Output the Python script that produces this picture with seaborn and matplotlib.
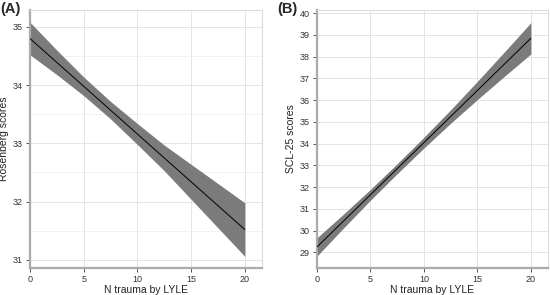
import seaborn as sns
import matplotlib.pyplot as plt
import matplotlib.ticker as mtick
import pandas as pd

# values
n_trauma = [0, 2.5, 5, 7.5, 10, 12.5, 15, 17.5, 20]

rosenberg_fit = [34.80, 34.39, 33.98, 33.57, 33.16, 32.75, 32.34, 31.93, 31.52]
rosenberg_lo = [34.52, 34.18, 33.82, 33.42, 32.98, 32.53, 32.04, 31.55, 31.06]
rosenberg_hi = [35.08, 34.60, 34.14, 33.72, 33.34, 32.97, 32.64, 32.31, 31.98]

scl_fit = [29.25, 30.45, 31.65, 32.85, 34.05, 35.25, 36.45, 37.65, 38.85]
scl_lo = [28.83, 30.13, 31.40, 32.62, 33.80, 34.94, 36.03, 37.09, 38.13]
scl_hi = [29.67, 30.77, 31.90, 33.08, 34.30, 35.56, 36.87, 38.21, 39.57]

df_a = pd.DataFrame({"x": n_trauma, "fit": rosenberg_fit, "lo": rosenberg_lo, "hi": rosenberg_hi})
df_b = pd.DataFrame({"x": n_trauma, "fit": scl_fit, "lo": scl_lo, "hi": scl_hi})

sns.set_style("white")
plt.rcParams['font.family'] = ['Liberation Sans', 'DejaVu Sans']

fig = plt.figure(figsize=(5.5, 2.95), dpi=100)
ax_a = fig.add_axes([30/550, 1-268/295, 232/550, 258/295])
ax_b = fig.add_axes([317/550, 1-268/295, 231/550, 258/295])


def draw_panel(ax, df, ylabel, ylim, yminor):
    ax.fill_between(df["x"], df["lo"], df["hi"], color="#7b7b7b", lw=0, zorder=2)
    sns.lineplot(data=df, x="x", y="fit", ax=ax, color="black", lw=0.7, zorder=3)
    ax.set_xlim(0, 21.6)
    ax.set_ylim(*ylim)
    ax.xaxis.set_major_locator(mtick.MultipleLocator(5))
    ax.yaxis.set_major_locator(mtick.MultipleLocator(1))
    if yminor:
        ax.yaxis.set_minor_locator(mtick.MultipleLocator(0.5))
    ax.grid(which="major", color="#e4e4e4", lw=0.7, zorder=0)
    ax.grid(which="minor", axis="y", color="#efefef", lw=0.6, zorder=0)
    ax.set_axisbelow(True)
    for s in ["left", "bottom"]:
        ax.spines[s].set_color("#ababab")
        ax.spines[s].set_linewidth(1.6)
    for s in ["top", "right"]:
        ax.spines[s].set_color("#dcdcdc")
        ax.spines[s].set_linewidth(0.8)
    ax.tick_params(which="major", axis="both", length=3, width=0.7, color="#555555",
                   labelsize=6.5, labelcolor="#333333", pad=2, left=True, bottom=True)
    ax.tick_params(which="minor", length=0)
    ax.set_xlabel("N trauma by LYLE", fontsize=7.5, color="#222222", labelpad=0.5)
    ax.set_ylabel(ylabel, fontsize=7.5, color="#222222", labelpad=3)


draw_panel(ax_a, df_a, "Rosenberg scores", (30.86, 35.29), True)
draw_panel(ax_b, df_b, "SCL-25 scores", (28.28, 40.15), False)

fig.text(0/550, 1-9/295, "(A)", fontsize=10.5, fontweight="bold", ha="left", va="center")
fig.text(277/550, 1-9/295, "(B)", fontsize=10.5, fontweight="bold", ha="left", va="center")

fig.savefig("out.png", dpi=100)
